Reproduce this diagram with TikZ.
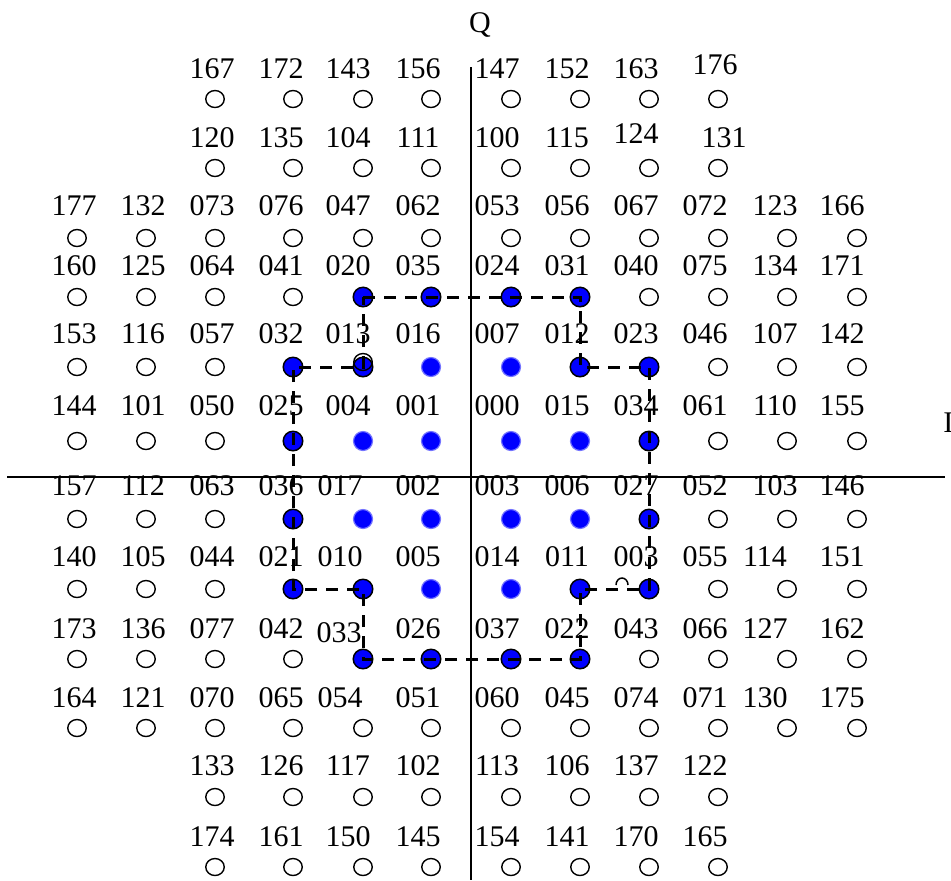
\documentclass[tikz,border=0pt]{standalone}
\usepackage{fontspec}
\setmainfont{Liberation Serif}
\usepackage{tikz}
\usetikzlibrary{shapes.geometric}
\definecolor{dotblue}{RGB}{0,0,255}

\begin{document}
\begin{tikzpicture}[
    x=0.5pt, y=-0.5pt,
    odot/.style={ellipse, draw=black, fill=white, line width=0.7pt,
                inner sep=0pt, minimum width=9.25pt, minimum height=8.5pt},
    edot/.style={circle, draw=black, fill=dotblue, line width=0.75pt,
                inner sep=0pt, minimum size=9.75pt},
    idot/.style={circle, draw=dotblue!55, fill=dotblue, line width=0.6pt,
                inner sep=0pt, minimum size=9.5pt},
    lab/.style={font=\fontsize{15}{18}\selectfont, inner sep=0pt, anchor=base},
    axisline/.style={line width=1pt},
    boundary/.style={line width=1.5pt, dash pattern=on 6pt off 4.5pt},
    off176/.style={xshift=5pt, yshift=2pt},
    off124/.style={yshift=2pt},
    off131/.style={xshift=9.5pt},
    off017/.style={xshift=-4pt},
    off010/.style={xshift=-4pt},
    off054/.style={xshift=-4pt},
    off033/.style={xshift=-4.5pt, yshift=-2pt},
    off114/.style={xshift=-5pt},
    off127/.style={xshift=-5pt},
    off130/.style={xshift=-5pt}
]
\useasboundingbox (0,0) rectangle (951,880);

% column positions of points and labels
\def\cx{{77,146,215,293,363,431,511,580,649,718,787,857}}
\def\lx{{74,143,212,281,348,418,497,567,636,705,775,842}}

% Axes
\coordinate (iW) at (7,477);
\coordinate (iE) at (945,477);
\coordinate (qN) at (471,67);
\coordinate (qS) at (471,880);
\draw[axisline] (iW) -- (iE);
\draw[axisline] (qN) -- (qS);
\node[lab] (qlab) at (480,32) {Q};
\node[lab, anchor=base west] (ilab) at (943,432) {I};

% Constellation points, row by row
\foreach \rw/\cy/\ly/\row in {
  1/99/78/{3/167/o,4/172/o,5/143/o,6/156/o,7/147/o,8/152/o,9/163/o,10/176/o},
  2/168/147/{3/120/o,4/135/o,5/104/o,6/111/o,7/100/o,8/115/o,9/124/o,10/131/o},
  3/238/215/{1/177/o,2/132/o,3/073/o,4/076/o,5/047/o,6/062/o,7/053/o,8/056/o,9/067/o,10/072/o,11/123/o,12/166/o},
  4/297/275/{1/160/o,2/125/o,3/064/o,4/041/o,5/020/e,6/035/e,7/024/e,8/031/e,9/040/o,10/075/o,11/134/o,12/171/o},
  5/367/343/{1/153/o,2/116/o,3/057/o,4/032/e,5/013/e,6/016/i,7/007/i,8/012/e,9/023/e,10/046/o,11/107/o,12/142/o},
  6/441/415/{1/144/o,2/101/o,3/050/o,4/025/e,5/004/i,6/001/i,7/000/i,8/015/i,9/034/e,10/061/o,11/110/o,12/155/o},
  7/519/495/{1/157/o,2/112/o,3/063/o,4/036/e,5/017/i,6/002/i,7/003/i,8/006/i,9/027/e,10/052/o,11/103/o,12/146/o},
  8/589/566/{1/140/o,2/105/o,3/044/o,4/021/e,5/010/e,6/005/i,7/014/i,8/011/e,9/003/e,10/055/o,11/114/o,12/151/o},
  9/659/638/{1/173/o,2/136/o,3/077/o,4/042/o,5/033/e,6/026/e,7/037/e,8/022/e,9/043/o,10/066/o,11/127/o,12/162/o},
  10/728/707/{1/164/o,2/121/o,3/070/o,4/065/o,5/054/o,6/051/o,7/060/o,8/045/o,9/074/o,10/071/o,11/130/o,12/175/o},
  11/797/775/{3/133/o,4/126/o,5/117/o,6/102/o,7/113/o,8/106/o,9/137/o,10/122/o},
  12/867/846/{3/174/o,4/161/o,5/150/o,6/145/o,7/154/o,8/141/o,9/170/o,10/165/o}}{
  \foreach \col/\lb/\st in \row {
    \pgfmathsetmacro\xc{\cx[\col-1]}
    \pgfmathsetmacro\xl{\lx[\col-1]}
    \node[\st dot] (c-\rw-\col) at (\xc,\cy) {};
    \node[lab, off\lb/.try] (t-\rw-\col) at (\xl,\ly) {\lb};
  }
}

% second ring over point 013
\node[odot, fill=none] (c-5-5b) at ([yshift=2.5pt]c-5-5) {};

% Inner 32-point boundary
\draw[boundary] (c-4-5.center) -- (c-4-8.center) -- (c-5-8.center) -- (c-5-9.center)
  -- (c-8-9.center) -- (c-8-8.center) -- (c-9-8.center) -- (c-9-5.center)
  -- (c-8-5.center) -- (c-8-4.center) -- (c-5-4.center) -- (c-5-5.center) -- cycle;

% stray mark
\draw[line width=0.75pt] (616,585) arc[start angle=180, end angle=0, x radius=3pt, y radius=3.5pt];

\end{tikzpicture}
\end{document}
